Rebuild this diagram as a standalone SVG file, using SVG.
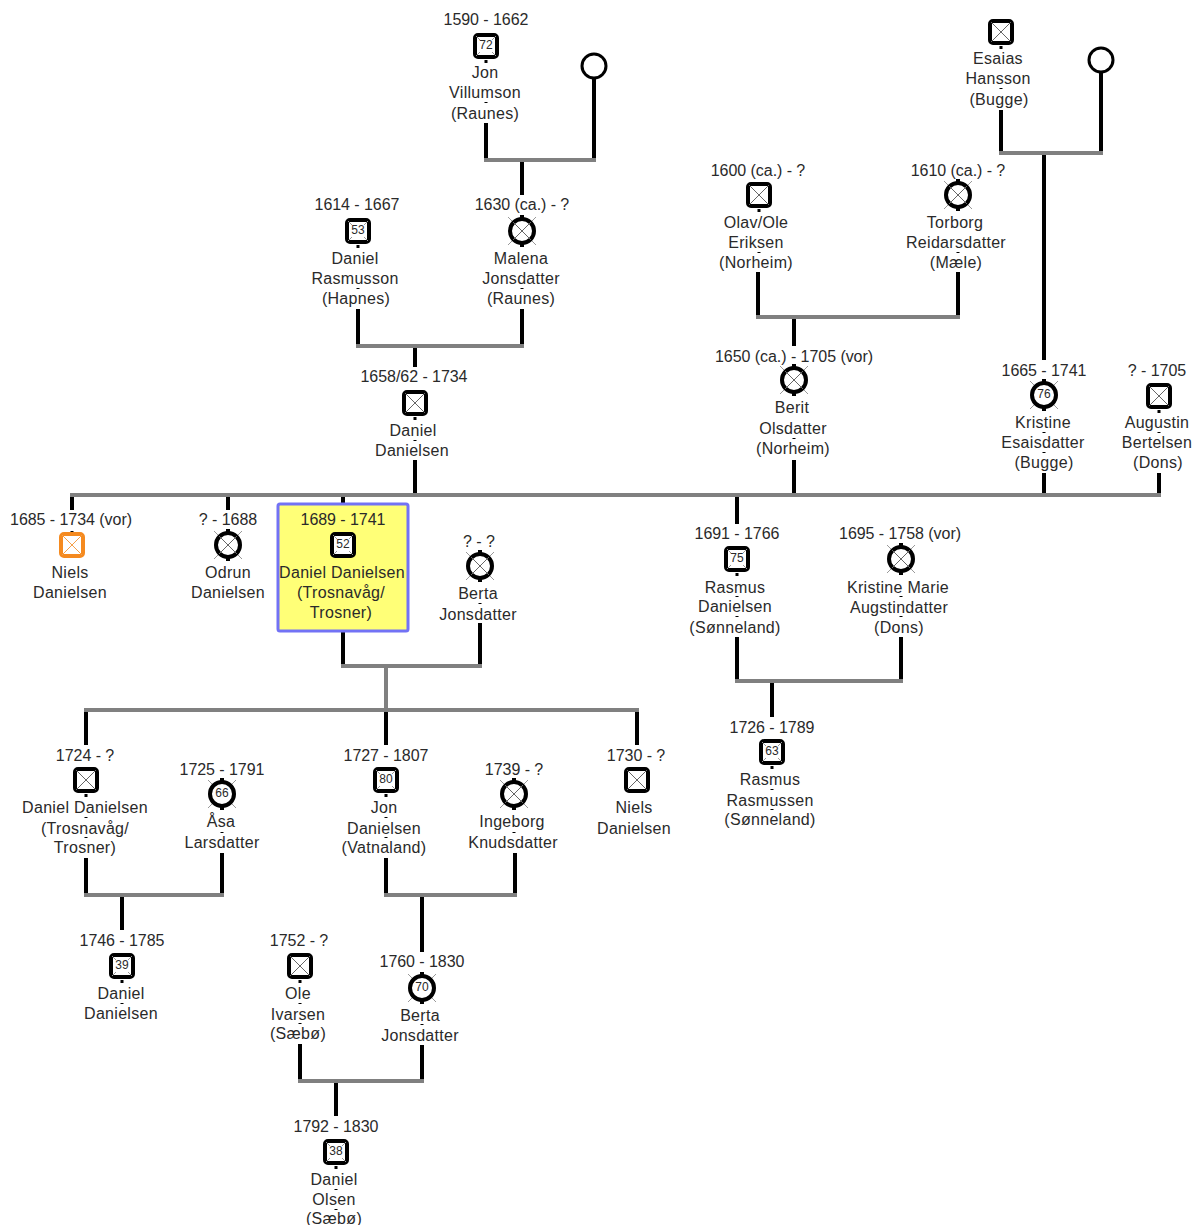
<svg xmlns="http://www.w3.org/2000/svg" width="1197" height="1225" viewBox="0 0 1197 1225">
<style>
text{font-family:"Liberation Sans",Arial,sans-serif;font-size:16px;fill:#2a2a2a;text-anchor:middle;letter-spacing:.3px}
g>text:first-of-type,.age+text{letter-spacing:-.05px}
g>text.nm{letter-spacing:.3px}
g>text.age{font-size:12px;letter-spacing:0;transform:translateY(-1px)}
.b{stroke:#000;stroke-width:4;fill:none}
.g{stroke:#808080;stroke-width:4;fill:none;stroke-linecap:square}
.t{stroke:#000;stroke-width:3;fill:none}
.x{stroke:#666;stroke-width:1;fill:none}
.o{stroke:#999;stroke-width:1;fill:none}
.f{fill:#fff;stroke:#000;stroke-width:4}
.e{fill:#fff;stroke:#000;stroke-width:3}
</style>
<defs>
<g id="sq"><rect class="f" x="-11" y="-11" width="22" height="22" rx="3"/><path class="x" d="M-10-10L10 10M10-10L-10 10"/></g>
<g id="sqo"><rect x="-11" y="-11" width="22" height="22" rx="3" fill="#fff" stroke="#f58a1f" stroke-width="4"/><path d="M-10-10L10 10M10-10L-10 10" stroke="#f5a04a" stroke-width="1" fill="none"/></g>
<g id="sqn"><rect class="f" x="-11" y="-11" width="22" height="22" rx="3"/><path class="o" d="M-10-10L-6-6M10-10L6-6M-10 10L-6 6M10 10L6 6"/></g>
<g id="ci"><path class="o" d="M-14-14L-9-9M14-14L9-9M-14 14L-9 9M14 14L9 9"/><circle class="f" r="12"/><path class="x" d="M-9-9L9 9M9-9L-9 9"/><path d="M-2-16h4v3h-4zM-2 13h4v3h-4z" fill="#000"/></g>
<g id="cin"><path class="o" d="M-14-14L-9-9M14-14L9-9M-14 14L-9 9M14 14L9 9"/><circle class="f" r="12"/><path d="M-2-16h4v3h-4zM-2 13h4v3h-4z" fill="#000"/></g>
</defs>
<g id="connectors">
<path class="b" d="M486 123V160M594 78V160M522 160V195M358 309V346M522 309V346M415 346V367M415 460V495M1001 110V153M1101 72V153M1044 153V360M758 272V317M958 272V317M794 317V346M794 460V495M1044 473V495M1159 473V495M72 495V510M228 495V510M343 495V503M737 495V524M343 631V666M480 623V666M86 710V745M386 710V745M637 710V745M737 637V681M901 637V681M772 681V717M86 858V895M222 853V895M122 895V930M386 858V895M515 853V895M422 895V952M300 1044V1081M422 1045V1081M336 1081V1116"/>
<path class="g" d="M486 160H594M1001 153H1101M358 346H522M758 317H958M72 495H1159M343 666H480M386 666V710M86 710H637M737 681H901M86 895H222M386 895H515M300 1081H422"/>
<path class="t" d="M486 60v3M486 102v1M358 245v3M358 288v1M522 288v1M415 417v3M415 440v1M1001 46v3M1001 88v1M759 209v3M759 252v1M958 252v1M794 438v1M1044 432v1M1044 452v1M1159 410v3M1159 432v1M72 531v3M343 559v3M343 582v1M343 602v1M480 603v1M737 573v3M737 596v1M737 616v1M901 596v1M901 616v1M772 766v3M772 789v1M772 809v1M86 794v3M86 817v1M86 837v1M222 832v1M386 794v3M386 817v1M386 837v1M514 832v1M122 980v3M122 1003v1M300 980v3M300 1003v1M300 1023v1M422 1024v1M336 1166v3M336 1189v1M336 1209v1"/>
</g>
<g id="n-jon"><use href="#sqn" x="486" y="46"/><text class="age" x="486" y="50">72</text><text x="486" y="25">1590 - 1662</text><text x="485" y="78">Jon</text><text x="485" y="98">Villumson</text><text x="485" y="119">(Raunes)</text></g>
<g id="n-spouse1"><circle class="e" cx="594" cy="66" r="12"/></g>
<g id="n-esaias"><use href="#sq" x="1001" y="32"/><text class="nm" x="998" y="64">Esaias</text><text x="998" y="84">Hansson</text><text x="999" y="105">(Bugge)</text></g>
<g id="n-spouse2"><circle class="e" cx="1101" cy="60" r="12"/></g>
<g id="n-olav"><use href="#sq" x="759" y="195"/><text x="758" y="176">1600 (ca.) - ?</text><text x="756" y="228">Olav/Ole</text><text x="756" y="248">Eriksen</text><text x="756" y="268">(Norheim)</text></g>
<g id="n-torborg"><use href="#ci" x="958" y="195"/><text x="958" y="176">1610 (ca.) - ?</text><text x="955" y="228">Torborg</text><text x="956" y="248">Reidarsdatter</text><text x="956" y="268">(Mæle)</text></g>
<g id="n-drasmusson"><use href="#sqn" x="358" y="231"/><text class="age" x="358" y="235">53</text><text x="357" y="210">1614 - 1667</text><text x="355" y="264">Daniel</text><text x="355" y="284">Rasmusson</text><text x="356" y="304">(Hapnes)</text></g>
<g id="n-malena"><use href="#ci" x="522" y="231"/><text x="522" y="210">1630 (ca.) - ?</text><text x="521" y="264">Malena</text><text x="521" y="284">Jonsdatter</text><text x="521" y="304">(Raunes)</text></g>
<g id="n-ddanielsen"><use href="#sq" x="415" y="403"/><text x="414" y="382">1658/62 - 1734</text><text x="413" y="436">Daniel</text><text x="412" y="456">Danielsen</text></g>
<g id="n-berit"><use href="#ci" x="794" y="380"/><text x="794" y="362">1650 (ca.) - 1705 (vor)</text><text x="792" y="413">Berit</text><text x="793" y="434">Olsdatter</text><text x="793" y="454">(Norheim)</text></g>
<g id="n-kristine"><use href="#cin" x="1044" y="395"/><text class="age" x="1044" y="399">76</text><text x="1044" y="376">1665 - 1741</text><text x="1043" y="428">Kristine</text><text x="1043" y="448">Esaisdatter</text><text x="1044" y="468">(Bugge)</text></g>
<g id="n-augustin"><use href="#sq" x="1159" y="396"/><text x="1157" y="376">? - 1705</text><text x="1157" y="428">Augustin</text><text x="1157" y="448">Bertelsen</text><text x="1158" y="468">(Dons)</text></g>
<g id="n-niels"><use href="#sqo" x="72" y="545"/><text x="71" y="525">1685 - 1734 (vor)</text><text x="70" y="578">Niels</text><text x="70" y="598">Danielsen</text></g>
<g id="n-odrun"><use href="#ci" x="228" y="545"/><text x="228" y="525">? - 1688</text><text x="228" y="578">Odrun</text><text x="228" y="598">Danielsen</text></g>
<g id="n-daniel"><rect x="278" y="504" width="130" height="127" rx="2" fill="#ffff77" stroke="#7272f5" stroke-width="3"/><use href="#sqn" x="343" y="545"/><text class="age" x="343" y="549">52</text><text x="343" y="525">1689 - 1741</text><text x="342" y="578">Daniel Danielsen</text><text x="341" y="598">(Trosnavåg/</text><text x="341" y="618">Trosner)</text></g>
<g id="n-berta"><use href="#ci" x="480" y="566"/><text x="479" y="547">? - ?</text><text x="478" y="599">Berta</text><text x="478" y="620">Jonsdatter</text></g>
<g id="n-rasmus"><use href="#sqn" x="737" y="559"/><text class="age" x="737" y="563">75</text><text x="737" y="539">1691 - 1766</text><text x="735" y="593">Rasmus</text><text x="735" y="612">Danielsen</text><text x="735" y="633">(Sønneland)</text></g>
<g id="n-kristinem"><use href="#ci" x="901" y="559"/><text x="900" y="539">1695 - 1758 (vor)</text><text x="898" y="593">Kristine Marie</text><text x="899" y="613">Augstindatter</text><text x="899" y="633">(Dons)</text></g>
<g id="n-rasmusr"><use href="#sqn" x="772" y="752"/><text class="age" x="772" y="756">63</text><text x="772" y="733">1726 - 1789</text><text x="770" y="785">Rasmus</text><text x="770" y="806">Rasmussen</text><text x="770" y="825">(Sønneland)</text></g>
<g id="n-d1724"><use href="#sq" x="86" y="780"/><text x="85" y="761">1724 - ?</text><text x="85" y="813">Daniel Danielsen</text><text x="85" y="834">(Trosnavåg/</text><text x="85" y="853">Trosner)</text></g>
<g id="n-asa"><use href="#cin" x="222" y="794"/><text class="age" x="222" y="798">66</text><text x="222" y="775">1725 - 1791</text><text x="221" y="827">Åsa</text><text x="222" y="848">Larsdatter</text></g>
<g id="n-jond"><use href="#sqn" x="386" y="780"/><text class="age" x="386" y="784">80</text><text x="386" y="761">1727 - 1807</text><text x="384" y="813">Jon</text><text x="384" y="834">Danielsen</text><text x="384" y="853">(Vatnaland)</text></g>
<g id="n-ingeborg"><use href="#ci" x="514" y="794"/><text x="514" y="775">1739 - ?</text><text x="512" y="827">Ingeborg</text><text x="513" y="848">Knudsdatter</text></g>
<g id="n-n1730"><use href="#sq" x="637" y="780"/><text x="636" y="761">1730 - ?</text><text x="634" y="813">Niels</text><text x="634" y="834">Danielsen</text></g>
<g id="n-d1746"><use href="#sqn" x="122" y="966"/><text class="age" x="122" y="970">39</text><text x="122" y="946">1746 - 1785</text><text x="121" y="999">Daniel</text><text x="121" y="1019">Danielsen</text></g>
<g id="n-ole"><use href="#sq" x="300" y="966"/><text x="299" y="946">1752 - ?</text><text x="298" y="999">Ole</text><text x="298" y="1020">Ivarsen</text><text x="298" y="1039">(Sæbø)</text></g>
<g id="n-berta2"><use href="#cin" x="422" y="988"/><text class="age" x="422" y="992">70</text><text x="422" y="967">1760 - 1830</text><text x="420" y="1021">Berta</text><text x="420" y="1041">Jonsdatter</text></g>
<g id="n-dolsen"><use href="#sqn" x="336" y="1152"/><text class="age" x="336" y="1156">38</text><text x="336" y="1132">1792 - 1830</text><text x="334" y="1185">Daniel</text><text x="334" y="1205">Olsen</text><text x="334" y="1224">(Sæbø)</text></g>
</svg>
